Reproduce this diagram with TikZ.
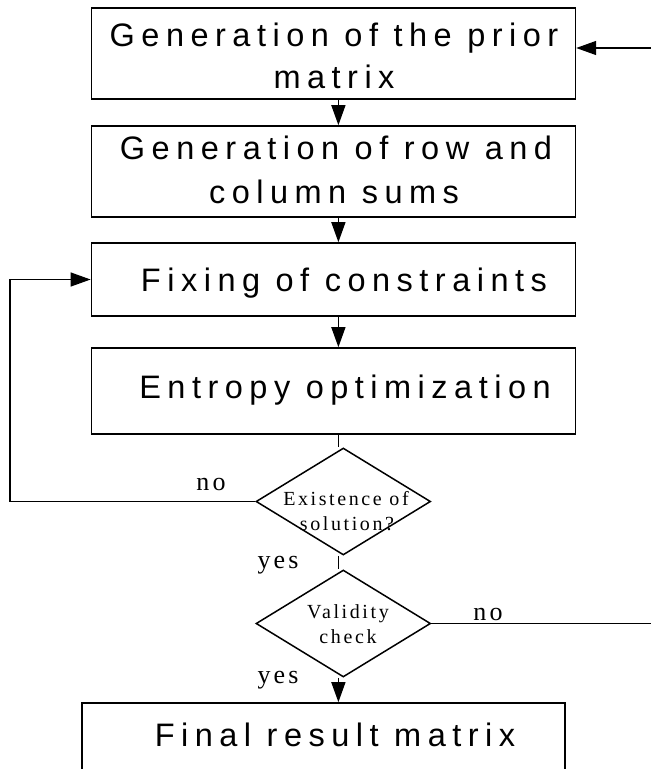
\documentclass[tikz,border=0pt]{standalone}
\usepackage{fontspec}
\setmainfont{Liberation Serif}
\newfontfamily\boxfont[LetterSpace=20]{Liberation Sans}
\newfontfamily\dfont[LetterSpace=13]{Liberation Serif}
\newfontfamily\lfont[LetterSpace=12]{Liberation Serif}
\usetikzlibrary{shapes.geometric,arrows.meta}
\begin{document}
\begin{tikzpicture}[x=1pt,y=-1pt,
  box/.style={draw,line width=1.6pt,inner sep=0pt,minimum width=484pt},
  dia/.style={draw,line width=1.5pt,diamond,inner sep=0pt,minimum width=174.6pt,minimum height=107pt},
  btxt/.style={inner sep=0pt,anchor=base,font=\boxfont\fontsize{32.5}{42}\selectfont},
  dtxt/.style={inner sep=0pt,anchor=base,font=\dfont\fontsize{20}{25}\selectfont},
  ltxt/.style={inner sep=0pt,anchor=base,font=\lfont\fontsize{26}{30}\selectfont},
  conn/.style={line width=1.4pt},
  arr/.style={line width=1.4pt,-{Triangle[length=20pt,width=14pt]}}]
\useasboundingbox (0,0) rectangle (651,769);
\clip (0,0) rectangle (651,769);
\fill[white] (0,0) rectangle (651,769);
% boxes
\node[box,minimum height=91pt] (b1) at (333.4,53.5) {};
\node[box,minimum height=91pt] (b2) at (333.4,171.5) {};
\node[box,minimum height=73pt] (b3) at (333.4,279.5) {};
\node[box,minimum height=86pt] (b4) at (333.4,391) {};
\node[box,minimum width=483.2pt,minimum height=100pt] (b5) at (323.4,753) {};
% diamonds
\node[dia] (d1) at (343.3,501.5) {};
\node[dia] (d2) at (343.3,623.5) {};
% box texts
\node[btxt] (t1a) at (334,46) {Generation of the prior};
\node[btxt] (t1b) at (334,88) {matrix};
\node[btxt] (t2a) at (336,159) {Generation of row and};
\node[btxt] (t2b) at (334,203) {column sums};
\node[btxt] (t3) at (344,291) {Fixing of constraints};
\node[btxt] (t4) at (345,398) {Entropy optimization};
\node[btxt] (t5) at (335,746) {Final result matrix};
% diamond texts
\node[dtxt] (e1) at (346,505) {Existence of};
\node[dtxt] (e2) at (347,530) {solution?};
\node[dtxt] (v1) at (348,618) {Validity};
\node[dtxt] (v2) at (348,643) {check};
% labels
\node[ltxt] (lno1) at (211,490) {no};
\node[ltxt] (lyes1) at (278,568) {yes};
\node[ltxt] (lyes2) at (278,683) {yes};
\node[ltxt] (lno2) at (488,620) {no};
% helper coordinates
\coordinate (ax) at (338.4,0);
\coordinate (lx) at (10,0);
\coordinate (rx) at (651,0);
\coordinate (ra) at (651,48);
% connectors
\draw[arr] (b1.south -| ax) -- (b2.north -| ax);
\draw[arr] (b2.south -| ax) -- (b3.north -| ax);
\draw[arr] (b3.south -| ax) -- (b4.north -| ax);
\draw[conn] (b4.south -| ax) -- (d1.north -| ax);
\draw[conn] (d1.south -| ax) -- (d2.north -| ax);
\draw[arr] (d2.south -| ax) -- (b5.north -| ax);
\draw[arr] (d1.west) -- (d1.west -| lx) |- (b3.west);
\draw[conn] (d2.east) -- (d2.east -| rx);
\draw[arr] (ra) -- (ra -| b1.east);
\end{tikzpicture}
\end{document}
